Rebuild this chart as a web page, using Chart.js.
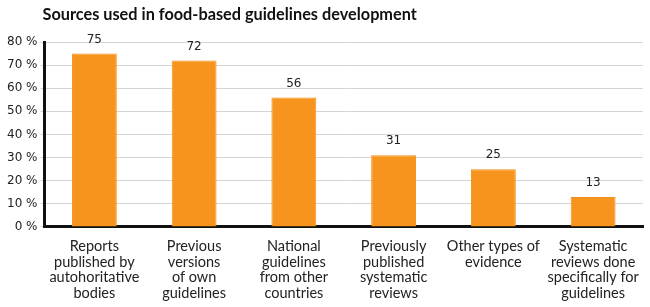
<!DOCTYPE html>
<html>
<head>
<meta charset="utf-8">
<script src="https://cdn.jsdelivr.net/npm/chart.js@4"></script>
<style>
  html, body { margin: 0; padding: 0; background: #fff; }
  #wrap { width: 650px; height: 307px; position: relative; }
</style>
</head>
<body>
<div id="wrap"><canvas id="grafica"></canvas></div>
<script>
const titulo = 'Sources used in food-based guidelines development';
const categorias = [
  ['Reports', 'published by', 'autohoritative', 'bodies'],
  ['Previous', 'versions', 'of own', 'guidelines'],
  ['National', 'guidelines', 'from other', 'countries'],
  ['Previously', 'published', 'systematic', 'reviews'],
  ['Other types of', 'evidence'],
  ['Systematic', 'reviews done', 'specifically for', 'guidelines']
];
const valores = [75, 72, 56, 31, 25, 13];
const ticks_y = [0, 10, 20, 30, 40, 50, 60, 70, 80];

// etiquetas de valor encima de cada barra + titulo
const etiquetas_plugin = {
  id: 'etiquetas',
  afterDatasetsDraw(chart) {
    const c = chart.ctx;
    c.save();
    c.font = '12px "DejaVu Sans"';
    c.fillStyle = '#222';
    c.textAlign = 'center';
    c.textBaseline = 'bottom';
    chart.getDatasetMeta(0).data.forEach((bar, i) => {
      c.fillText(valores[i], bar.x, bar.y - 8);
    });
    c.font = 'bold 16.3px Lato';
    c.textAlign = 'left';
    c.textBaseline = 'middle';
    c.fillStyle = '#111';
    c.fillText(titulo, chart.chartArea.left - 2, 15);
    c.restore();
  }
};

new Chart(document.getElementById('grafica').getContext('2d'), {
  type: 'bar',
  data: {
    labels: categorias,
    datasets: [{
      data: valores,
      backgroundColor: '#F7941D',
      borderColor: '#F39019',
      borderWidth: 1,
      barPercentage: 0.9,
      categoryPercentage: 0.5
    }]
  },
  options: {
    responsive: true,
    maintainAspectRatio: false,
    animation: false,
    layout: { padding: { top: 42, right: 7, left: 4, bottom: 2 } },
    plugins: {
      legend: { display: false },
      tooltip: { enabled: false }
    },
    scales: {
      x: {
        grid: { display: false },
        border: { color: '#111', width: 3 },
        ticks: {
          color: '#222',
          padding: 4,
          maxRotation: 0,
          autoSkip: false,
          font: { family: 'Lato', size: 14.5, lineHeight: 1.07 }
        }
      },
      y: {
        min: 0,
        max: 80,
        afterBuildTicks: (axis) => { axis.ticks = ticks_y.map(v => ({ value: v })); },
        grid: { color: '#d4d4d4', lineWidth: 1, drawTicks: true, tickLength: 4, tickColor: '#d4d4d4' },
        border: { color: '#111', width: 3 },
        ticks: {
          color: '#222',
          padding: 3,
          font: { family: 'DejaVu Sans', size: 12 },
          callback: (v) => v + ' %'
        }
      }
    }
  },
  plugins: [etiquetas_plugin]
});
</script>
</body>
</html>
